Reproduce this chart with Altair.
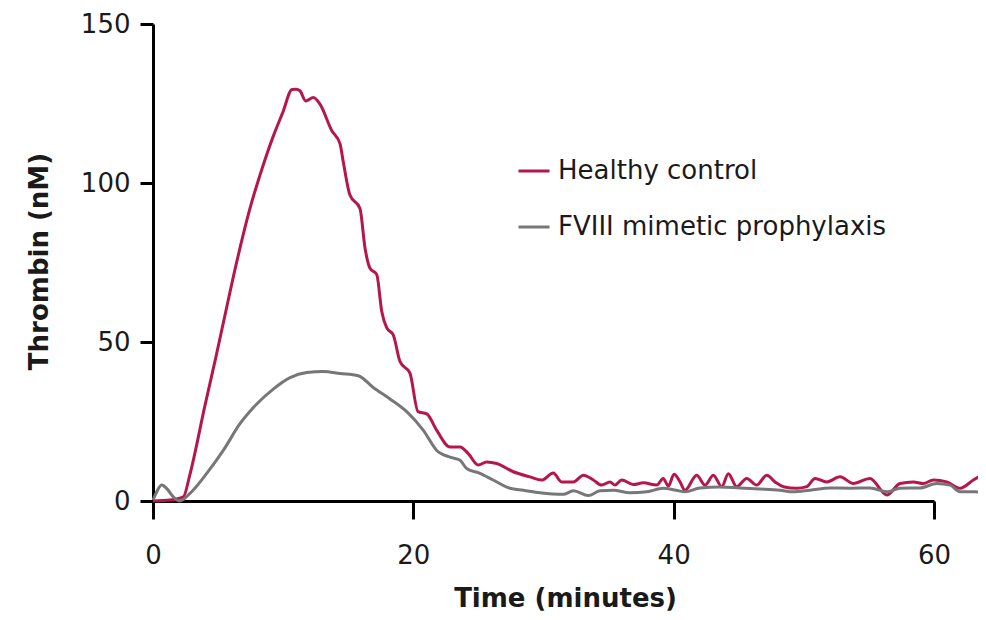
import altair as alt
import pandas as pd

series_names = ["Healthy control", "FVIII mimetic prophylaxis"]
series_colors = ["#b5174b", "#777777"]

x_ticks = [0, 20, 40, 60]
y_ticks = [0, 50, 100, 150]

# Healthy control: time (minutes) and thrombin (nM)
healthy_time = [0.0, 1.31, 2.33, 2.84, 3.99, 4.84, 5.68, 6.53, 7.45, 8.37, 9.22, 9.98,
                10.68, 10.99, 11.29, 11.73, 12.32, 12.83, 13.73, 14.37, 14.62, 15.13,
                15.90, 16.29, 16.67, 17.19, 17.57, 17.95, 18.46, 18.98, 19.74, 20.36,
                21.03, 21.80, 22.82, 23.59, 24.22, 24.99, 25.64, 26.41, 27.68, 28.96,
                29.86, 30.75, 31.40, 32.29, 33.06, 33.83, 34.47, 35.11, 35.49, 36.01,
                36.90, 37.67, 38.70, 39.20, 39.59, 40.03, 40.49, 40.87, 41.77, 42.41,
                43.05, 43.69, 44.20, 44.84, 45.61, 46.38, 47.15, 47.79, 48.43, 49.45,
                50.22, 50.86, 51.76, 52.78, 53.80, 55.08, 56.37, 57.39, 58.41, 59.18,
                59.95, 60.97, 62.00, 63.02, 63.92]
healthy_thrombin = [0.0, 0.3, 1.3, 8.4, 30.0, 45.4, 61.3, 76.9, 92.0, 104.4, 114.5, 122.3,
                    129.4, 129.5, 129.0, 125.8, 126.9, 124.8, 116.5, 112.3, 106.6, 96.2,
                    92.0, 79.5, 73.2, 71.2, 59.7, 54.5, 52.2, 43.8, 40.2, 28.1,
                    27.4, 22.2, 17.0, 17.0, 14.9, 11.3, 12.3, 11.8, 9.2, 7.6,
                    6.6, 8.8, 6.0, 6.0, 8.1, 6.6, 5.0, 6.0, 5.0, 6.6,
                    5.2, 5.7, 5.0, 7.1, 4.7, 8.4, 6.0, 3.4, 8.1, 5.0,
                    8.1, 4.5, 8.6, 4.5, 7.1, 5.0, 8.1, 6.0, 4.5, 4.0,
                    4.5, 7.1, 6.0, 7.6, 5.5, 7.1, 1.9, 5.5, 6.0, 5.5,
                    6.6, 6.0, 4.0, 6.6, 8.7]

# FVIII mimetic prophylaxis
fviii_time = [0.0, 0.31, 0.67, 1.08, 1.56, 2.07, 2.84, 4.13, 5.40, 6.68, 7.97, 9.24,
              10.53, 11.81, 13.08, 14.37, 15.77, 16.92, 18.21, 19.49, 20.77, 21.80,
              22.82, 23.59, 24.10, 25.12, 26.14, 27.43, 28.45, 29.73, 31.52, 32.29,
              33.44, 34.34, 35.36, 36.65, 37.93, 39.20, 40.18, 40.87, 42.02, 43.56,
              45.10, 46.63, 48.17, 49.17, 50.47, 52.01, 53.55, 55.08, 56.37, 57.39,
              58.93, 60.21, 61.23, 62.00, 63.15, 63.92]
fviii_thrombin = [0.3, 3.1, 5.0, 3.8, 1.3, 0.0, 2.4, 8.7, 15.9, 24.3, 30.5, 35.2,
                  38.8, 40.4, 40.7, 40.1, 39.4, 35.7, 32.1, 28.1, 22.2, 15.9,
                  13.8, 12.8, 10.2, 8.7, 6.6, 4.0, 3.4, 2.6, 2.1, 3.2,
                  1.7, 3.2, 3.4, 2.6, 2.9, 4.0, 3.4, 2.9, 4.1, 4.4,
                  4.1, 3.8, 3.4, 2.9, 3.4, 4.1, 4.0, 4.1, 2.9, 4.0,
                  4.1, 5.5, 5.0, 2.9, 2.9, 2.6]

df = pd.concat([
    pd.DataFrame({"time": healthy_time, "thrombin": healthy_thrombin, "series": series_names[0]}),
    pd.DataFrame({"time": fviii_time, "thrombin": fviii_thrombin, "series": series_names[1]}),
])

FONT = "DejaVu Sans"
TXT = "#1a1a1a"

chart = alt.Chart(df).mark_line(strokeWidth=3, interpolate="monotone").encode(
    x=alt.X("time:Q",
            scale=alt.Scale(domain=[0, 60], nice=False, zero=False),
            axis=alt.Axis(values=x_ticks, title="Time (minutes)", tickSize=18,
                          labelPadding=23, labelFlush=False, titleX=412, titleY=105,
                          titleAlign="center", titleBaseline="alphabetic")),
    y=alt.Y("thrombin:Q",
            scale=alt.Scale(domain=[0, 150], nice=False),
            axis=alt.Axis(values=y_ticks, title="Thrombin (nM)", tickSize=13,
                          labelPadding=10, labelFlush=False, titleX=-114, titleY=237,
                          titleAngle=-90, titleAlign="center", titleBaseline="middle")),
    color=alt.Color("series:N",
                    scale=alt.Scale(domain=series_names, range=series_colors),
                    legend=alt.Legend(title=None, orient="none", legendX=364, legendY=130,
                                      symbolType="stroke", symbolSize=961,
                                      symbolStrokeWidth=3, labelOffset=7, rowPadding=26,
                                      padding=0, labelFont=FONT, labelFontSize=26,
                                      labelColor=TXT, labelLimit=500)),
).properties(
    width=781,
    height=477,
    autosize=alt.AutoSizeParams(type="none"),
    padding={"left": 145, "top": 16, "right": 44, "bottom": 111},
).configure_view(
    stroke=None
).configure_axis(
    grid=False,
    domainColor="black",
    domainWidth=3,
    tickColor="black",
    tickWidth=3,
    labelFont=FONT,
    labelFontSize=26,
    labelColor=TXT,
    titleFont=FONT,
    titleFontSize=26,
    titleFontWeight="bold",
    titleColor=TXT,
)

chart.save("out.html", embed_options={"renderer": "svg", "actions": False})
